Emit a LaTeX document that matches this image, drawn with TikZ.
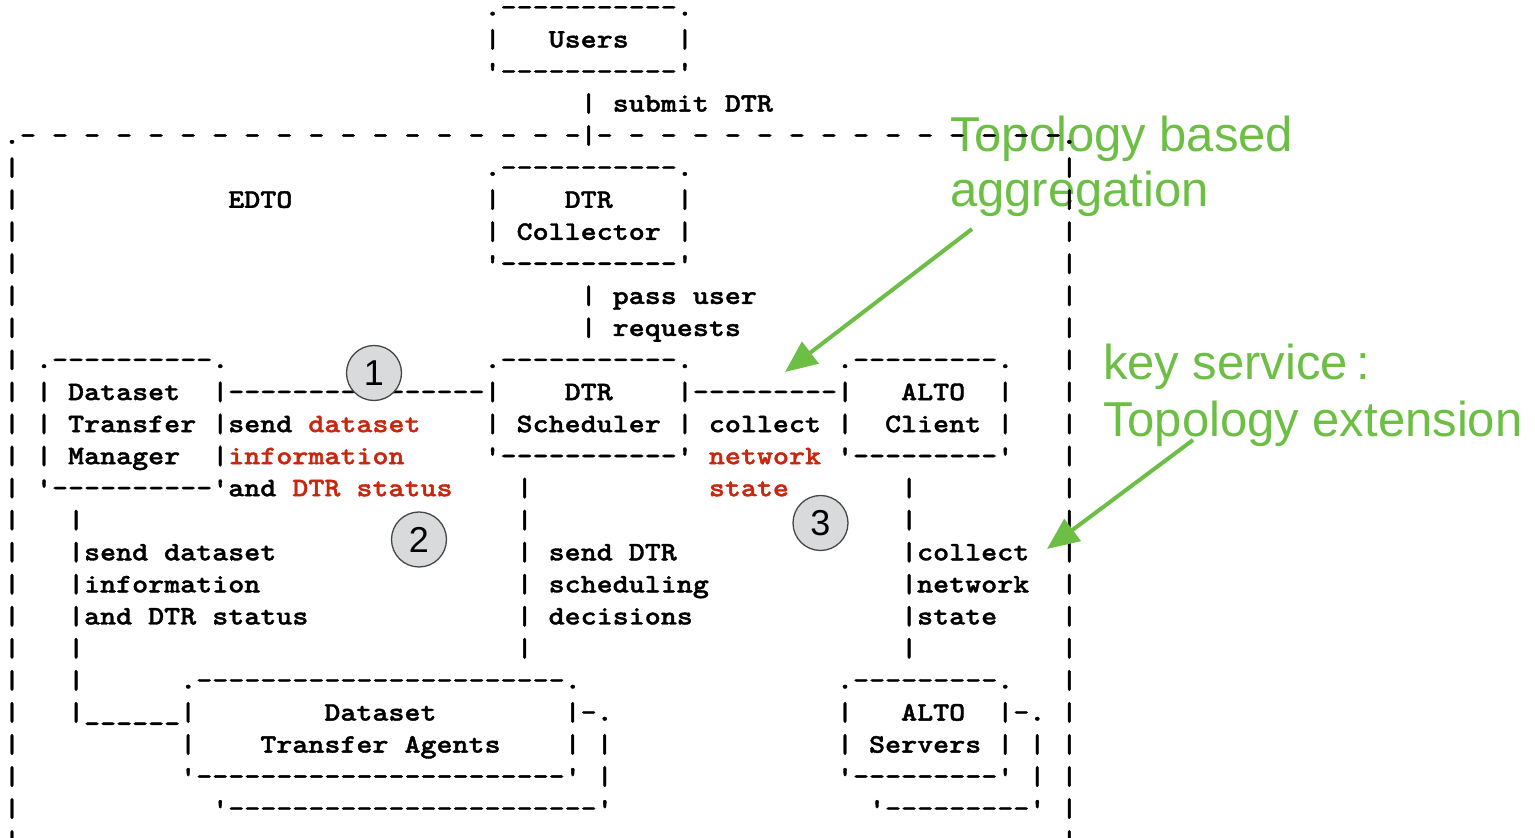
\documentclass[tikz,border=0pt]{standalone}
\usepackage{fontspec}
\usetikzlibrary{arrows.meta}
\newfontfamily\asciifont{lmmonolt10-bold.otf}[Ligatures=TeXOff,FakeStretch=1.143,FakeBold=1.4]
\newfontfamily\greenfont{Liberation Sans}
\definecolor{grn}{RGB}{108,190,69}
\definecolor{rd}{RGB}{200,38,14}
\definecolor{cfill}{RGB}{217,218,220}
\definecolor{cline}{RGB}{70,70,70}
\newcommand\rp[2]{\foreach\i in {1,...,#1}{#2}}
\newcounter{seg}
\tikzset{
  asc/.style={font=\asciifont\fontsize{26.7}{32}\selectfont,
    inner sep=0pt, outer sep=0pt, anchor=base west},
  gtext/.style={font=\greenfont\fontsize{49}{56}\selectfont, text=grn,
    inner sep=0pt, outer sep=0pt, anchor=base west},
  circ/.style={circle, minimum size=55pt, inner sep=0pt, fill=cfill, draw=cline,
    line width=1.3pt, font=\greenfont\fontsize{36}{36}\selectfont},
  garrow/.style={draw=grn, line width=4pt, -{Triangle[length=32pt,width=27pt]}}
}
\newcommand\A[4][black]{\stepcounter{seg}\edef\segname{s\the\value{seg}}%
  \node[asc,text=#1] (\segname) at ({3.99+16.02*#2},{822.5-32.05*#3}) {\spaceskip=16.02pt\relax #4};}
\begin{document}
\begin{tikzpicture}[x=1pt,y=1pt]
\useasboundingbox (0,0) rectangle (1535,838);
% green annotations (behind)
\node[gtext] (g1) at (950,686) {Topology based};
\node[gtext] (g2) at (950,631) {aggregation};
\node[gtext] (g3) at (1103,458) {key service\,:};
\node[gtext] (g4) at (1103,401) {Topology extension};
% ---- ASCII art ----
\A{30}{0}{.\rp{11}{-}.}
\A{30}{1}{|} \A{34}{1}{Users} \A{42}{1}{|}
\A{30}{2}{'\rp{11}{-}'}
\A{36}{3}{| submit DTR}
\A{0}{4}{.} \A{36}{4}{|} \A{66}{4}{.}
\foreach \c in {1,3,...,35,37,39,...,65} {\A{\c}{4}{-}}
\foreach \r in {5,...,26} {\A{0}{\r}{|} \A{66}{\r}{|}}
\A{30}{5}{.\rp{11}{-}.}
\A{14}{6}{EDTO} \A{30}{6}{|} \A{35}{6}{DTR} \A{42}{6}{|}
\A{30}{7}{|} \A{32}{7}{Collector} \A{42}{7}{|}
\A{30}{8}{'\rp{11}{-}'}
\A{36}{9}{| pass user}
\A{36}{10}{| requests}
\A{2}{11}{.\rp{10}{-}.} \A{30}{11}{.\rp{11}{-}.} \A{52}{11}{.\rp{9}{-}.}
\A{2}{12}{|} \A{4}{12}{Dataset} \A{13}{12}{|\rp{16}{-}|} \A{35}{12}{DTR}
\A{42}{12}{|\rp{9}{-}|} \A{56}{12}{ALTO} \A{62}{12}{|}
\A{2}{13}{|} \A{4}{13}{Transfer} \A{13}{13}{|send} \A[rd]{19}{13}{dataset}
\A{30}{13}{|} \A{32}{13}{Scheduler} \A{42}{13}{|} \A{44}{13}{collect}
\A{52}{13}{|} \A{55}{13}{Client} \A{62}{13}{|}
\A{2}{14}{|} \A{4}{14}{Manager} \A{13}{14}{|} \A[rd]{14}{14}{information}
\A{30}{14}{'\rp{11}{-}'} \A[rd]{44}{14}{network} \A{52}{14}{'\rp{9}{-}'}
\A{2}{15}{'\rp{10}{-}'} \A{14}{15}{and} \A[rd]{18}{15}{DTR status}
\A{32}{15}{|} \A[rd]{44}{15}{state} \A{56}{15}{|}
\A{4}{16}{|} \A{32}{16}{|} \A{56}{16}{|}
\A{4}{17}{|send dataset} \A{32}{17}{| send DTR} \A{56}{17}{|collect}
\A{4}{18}{|information} \A{32}{18}{| scheduling} \A{56}{18}{|network}
\A{4}{19}{|and DTR status} \A{32}{19}{| decisions} \A{56}{19}{|state}
\A{4}{20}{|} \A{32}{20}{|} \A{56}{20}{|}
\A{4}{21}{|} \A{11}{21}{.\rp{23}{-}.} \A{52}{21}{.\rp{9}{-}.}
\A{4}{22}{|\rp{6}{\_}|} \A{20}{22}{Dataset} \A{35}{22}{|-.}
\A{52}{22}{|} \A{56}{22}{ALTO} \A{62}{22}{|-.}
\A{11}{23}{|} \A{16}{23}{Transfer Agents} \A{35}{23}{| |}
\A{52}{23}{|} \A{54}{23}{Servers} \A{62}{23}{| |}
\A{11}{24}{'\rp{23}{-}' |} \A{52}{24}{'\rp{9}{-}' |}
\A{13}{25}{'\rp{23}{-}'} \A{54}{25}{'\rp{9}{-}'}
% numbered markers
\node[circ] (c1) at (374,465) {1};
\node[circ] (c2) at (419,298.5) {2};
\node[circ] (c3) at (820.5,315) {3};
% green arrows
\coordinate (a1s) at (972,609);
\coordinate (a1e) at (785,466);
\coordinate (a2s) at (1193,398);
\coordinate (a2e) at (1047,289);
\draw[garrow] (a1s) -- (a1e);
\draw[garrow] (a2s) -- (a2e);
\end{tikzpicture}
\end{document}
